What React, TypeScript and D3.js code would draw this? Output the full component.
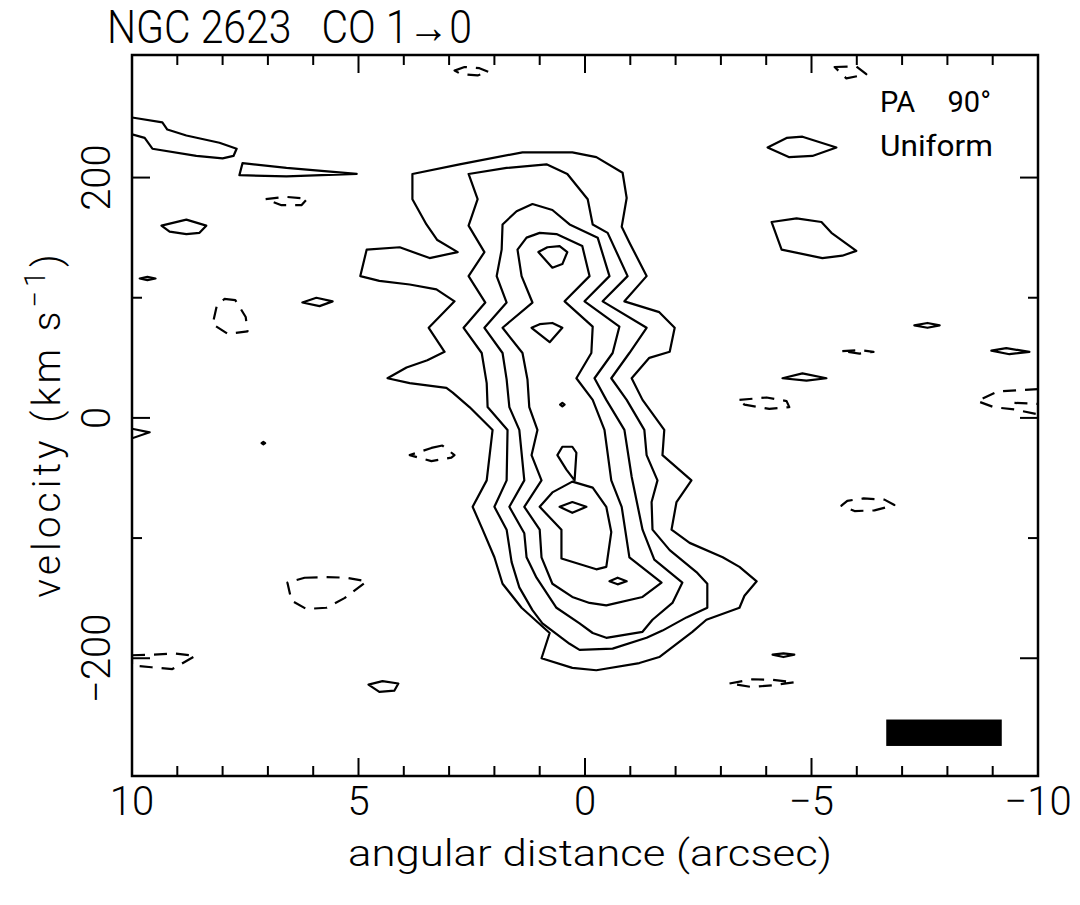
import * as d3 from 'd3';

type Pt = [number, number];

// axis ticks (arcsec, km/s)
const xMajorTicks = [10, 5, 0, -5, -10];
const xTickLabels = ['10', '5', '0', '\u22125', '\u221210'];
const xMinorTicks = [9, 8, 7, 6, 4, 3, 2, 1, -1, -2, -3, -4, -6, -7, -8, -9];
const yMajorTicks = [-200, 0, 200];
const yTickLabels = ['\u2212200', '0', '200'];
const yMinorTicks = [-100, 100];

// main positive contours [offset arcsec, velocity km/s], outermost first
const level1: Pt[] = [
  [3.81, 203], [2.77, 211], [1.38, 221], [0.28, 221], [-0.25, 217], [-0.83, 204], [-0.92, 183],
  [-0.81, 159], [-0.98, 146], [-1.36, 118], [-0.87, 97], [-1.64, 88], [-1.98, 75], [-1.87, 55],
  [-1.42, 50], [-1.03, 33], [-1.27, 15], [-1.75, -10], [-1.71, -31], [-2.35, -52], [-2.02, -70],
  [-1.91, -93], [-2.31, -104], [-3.04, -116], [-3.41, -124], [-3.79, -136], [-3.52, -148],
  [-3.41, -158], [-2.68, -168], [-2.37, -178], [-1.64, -199], [-1.2, -204], [-0.25, -210],
  [0.28, -208], [0.96, -200], [0.78, -179], [1.4, -158], [1.82, -138], [2.0, -116], [2.26, -93],
  [2.48, -74], [2.17, -52], [2.04, -10], [2.55, 9], [2.92, 21], [3.06, 25], [3.87, 29], [4.36, 33],
  [3.94, 42], [3.48, 48], [3.1, 55], [3.45, 75], [2.88, 97], [3.28, 107], [3.87, 111], [4.54, 114],
  [4.96, 118], [4.82, 140], [4.09, 142], [3.43, 133], [2.81, 138], [3.26, 148], [3.5, 161], [3.81, 182],
];
const level2: Pt[] = [
  [2.57, 203], [1.73, 208], [0.85, 211], [0.39, 203], [-0.06, 182], [-0.17, 161], [-0.5, 154],
  [-0.94, 118], [-0.39, 97], [-1.36, 75], [-0.98, 54], [-0.58, 33], [-0.92, 15], [-1.31, -10],
  [-1.36, -31], [-1.6, -52], [-1.47, -70], [-1.49, -93], [-1.87, -110], [-2.48, -129], [-2.7, -138],
  [-2.7, -158], [-2.24, -166], [-1.71, -177], [-1.36, -183], [-0.61, -192], [0.12, -193],
  [0.34, -188], [0.94, -171], [1.16, -160], [1.45, -141], [1.62, -120], [1.73, -93], [2.0, -74],
  [1.73, -52], [1.71, -10], [2.15, 9], [2.17, 29], [2.28, 54], [2.68, 75], [2.2, 96], [2.57, 118],
  [2.22, 138], [2.57, 160], [2.37, 182],
];
const level3: Pt[] = [
  [1.82, 161], [1.51, 172], [1.16, 178], [0.72, 173], [0.34, 161], [-0.28, 150], [-0.54, 118],
  [0.01, 97], [-0.76, 76], [-0.61, 54], [-0.21, 33], [-0.47, 15], [-0.87, -10], [-1.03, -49],
  [-1.27, -93], [-1.53, -118], [-2.15, -137], [-1.93, -154], [-1.49, -168], [-1.27, -178],
  [-0.47, -183], [-0.17, -179], [0.12, -171], [0.63, -158], [1.07, -133], [1.29, -116], [1.34, -96],
  [1.67, -74], [1.34, -52], [1.45, -10], [1.67, 9], [1.73, 32], [1.82, 54], [2.22, 75], [1.73, 96],
  [1.95, 118], [1.84, 140],
];
const level4: Pt[] = [
  [1.49, 140], [1.29, 150], [1.0, 154], [0.63, 153], [0.06, 143], [-0.1, 118], [0.45, 97],
  [-0.17, 76], [-0.14, 54], [0.19, 33], [-0.17, 15], [-0.43, -10], [-0.58, -52], [-0.81, -74],
  [-0.98, -116], [-1.69, -137], [-1.27, -149], [-0.47, -156], [-0.1, -154], [0.28, -149],
  [0.72, -138], [0.96, -116], [1.0, -93], [1.34, -74], [0.96, -52], [1.18, -31], [1.05, -10],
  [1.23, 9], [1.27, 32], [1.38, 54], [1.82, 75], [1.16, 96], [1.4, 118],
];
// inner peaks
const peakTop: Pt[] = [[1.03, 138], [0.83, 142], [0.56, 143], [0.39, 138], [0.5, 128], [0.72, 125]];
const peakMiddle: Pt[] = [[1.18, 75], [1.0, 78], [0.72, 79], [0.5, 75], [0.78, 63]];
const peakDot: Pt[] = [[0.55, 11], [0.5, 12.5], [0.45, 11], [0.5, 9.5]];
const peakDrop: Pt[] = [[0.61, -31], [0.5, -24], [0.28, -24], [0.19, -29], [0.23, -52], [0.41, -43]];
const peakLower: Pt[] = [
  [1.0, -74], [0.72, -62], [0.28, -53], [-0.17, -58], [-0.47, -74], [-0.58, -95], [-0.47, -124],
  [-0.25, -126], [0.52, -117], [0.52, -93],
];
const peakEye: Pt[] = [[0.56, -74], [0.28, -70], [-0.03, -74], [0.28, -79]];
const peakSmall: Pt[] = [[-0.54, -136], [-0.72, -133], [-0.92, -136], [-0.72, -138.5]];

// isolated positive blobs
const blobA: Pt[] = [[7.56, 212], [6.59, 208], [5.04, 203], [6.59, 201], [7.63, 202]];
const blobB: Pt[] = [[9.35, 160], [8.8, 165], [8.36, 160], [8.51, 154], [8.8, 153], [9.17, 155]];
const blobC: Pt[] = [[9.83, 116], [9.66, 117.3], [9.48, 116], [9.66, 114.7]];
const blobD: Pt[] = [[6.24, 96], [5.93, 100], [5.57, 97], [5.86, 93]];
const blobE: Pt[] = [[7.14, -21], [7.1, -20], [7.06, -21], [7.1, -22]];
const blobF: Pt[] = [[4.78, -222], [4.47, -219], [4.12, -221], [4.21, -227], [4.54, -228]];
const blobG: Pt[] = [[-4.03, 225], [-4.45, 233], [-4.8, 234], [-5.55, 225], [-5.02, 218], [-4.51, 217]];
const blobH: Pt[] = [[-4.12, 163], [-4.67, 166], [-5.22, 163], [-5.44, 154], [-5.99, 139], [-5.68, 135], [-5.24, 133], [-4.34, 140]];
const blobI: Pt[] = [[-7.27, 77], [-7.56, 79], [-7.83, 77], [-7.56, 75]];
const blobJ: Pt[] = [[-8.97, 56], [-9.3, 58], [-9.81, 55], [-9.37, 53]];
const blobK: Pt[] = [[-4.36, 33], [-4.8, 37], [-5.33, 33], [-4.89, 31]];
const blobL: Pt[] = [[-4.14, -197], [-4.38, -196], [-4.62, -197], [-4.38, -199]];
// positive contours cut by the left edge
const edgeTop: Pt[] = [
  [10, 250], [9.33, 246], [9.22, 240], [8.8, 235], [8.07, 229], [7.69, 224], [7.76, 218], [8.0, 216],
  [8.58, 218], [9.55, 224], [9.72, 233], [10, 236],
];
const edgeMid: Pt[] = [[10, -9], [9.61, -12], [10, -17]];

// negative contours (dashed)
const negA: Pt[] = [[2.88, 289], [2.66, 292], [2.33, 291], [2.13, 288], [2.37, 285], [2.73, 286]];
const negB: Pt[] = [[7.05, 182], [6.63, 184], [6.13, 182.5], [6.26, 177], [6.7, 177]];
const negC: Pt[] = [[7.96, 99], [7.72, 98], [7.49, 84], [7.45, 72], [7.89, 70], [8.22, 78], [8.13, 93]];
const negD: Pt[] = [[3.39, -25], [3.15, -23], [2.88, -31], [2.95, -33], [3.39, -36], [3.87, -31]];
const negE: Pt[] = [
  [6.19, -133], [5.71, -132.5], [5.26, -133], [4.82, -136], [5.31, -150], [5.71, -158], [6.15, -159],
  [6.48, -152], [6.57, -137],
];
const negF: Pt[] = [[10, -197.5], [9.55, -197], [9.06, -196], [8.6, -198], [9.11, -209], [9.57, -207.5], [10, -206]];
const negG: Pt[] = [[-5.51, 292], [-5.99, 292.5], [-6.21, 286], [-5.77, 282.5]];
const negH: Pt[] = [[-3.41, 15], [-4.01, 17], [-4.45, 14], [-4.51, 9], [-4.07, 7.5], [-3.52, 11]];
const negI: Pt[] = [[-5.68, 55.5], [-6.06, 56.5], [-6.37, 55], [-6.06, 53.5]];
const negJ: Pt[] = [[-5.66, -73], [-5.79, -69], [-6.15, -67], [-6.61, -68], [-6.83, -72.5], [-6.39, -77], [-5.95, -77.5]];
const negK: Pt[] = [[-3.19, -221], [-3.7, -217.5], [-4.14, -218], [-4.62, -220], [-4.14, -222.5], [-3.68, -224]];
const negEdgeA: Pt[] = [[-10, 24], [-9.57, 23], [-9.11, 22], [-8.66, 14], [-9.02, 9], [-9.48, 7], [-10, 3]];
const negEdgeB: Pt[] = [[-9.48, 12.5], [-10, 11.7]];

// beam bar (arcsec, km/s)
const beamX = [-6.65, -9.2];
const beamV = [-251, -273];

const positiveClosed = [level1, level2, level3, level4, peakTop, peakMiddle, peakDot, peakDrop,
  peakLower, peakEye, peakSmall, blobA, blobB, blobC, blobD, blobE, blobF, blobG, blobH, blobI,
  blobJ, blobK, blobL];
const positiveOpen = [edgeTop, edgeMid];
const negativeClosed = [negA, negB, negC, negD, negE, negF, negG, negH, negI, negJ, negK];
const negativeOpen = [negEdgeA, negEdgeB];

const W = 1080;
const H = 905;
const font = "Roboto, 'Liberation Sans', sans-serif";

export default function App() {
  const x = d3.scaleLinear().domain([10, -10]).range([132, 1038]);
  const y = d3.scaleLinear().domain([-298, 302]).range([776, 55]);
  const [x0, x1] = x.range();
  const [yb, yt] = y.range();

  const closed = d3.line<Pt>().x(d => x(d[0])).y(d => y(d[1])).curve(d3.curveLinearClosed);
  const open = d3.line<Pt>().x(d => x(d[0])).y(d => y(d[1]));

  const tickMajor = 18;
  const tickMinor = 10;

  return (
    <div style={{ position: 'absolute', left: 0, top: 0, background: 'white' }}>
      <svg width={W} height={H} style={{ display: 'block' }}>
        <rect width={W} height={H} fill="white" />
        <defs>
          <clipPath id="plot">
            <rect x={x0} y={yt} width={x1 - x0} height={yb - yt} />
          </clipPath>
        </defs>

        <g clipPath="url(#plot)" fill="none" stroke="#000" strokeWidth={2.2} strokeLinejoin="round">
          {positiveClosed.map((c, i) => (
            <path key={'p' + i} d={closed(c) ?? ''} />
          ))}
          {positiveOpen.map((c, i) => (
            <path key={'po' + i} d={open(c) ?? ''} />
          ))}
          {negativeClosed.map((c, i) => (
            <path key={'n' + i} d={closed(c) ?? ''} strokeDasharray="13 9" />
          ))}
          {negativeOpen.map((c, i) => (
            <path key={'no' + i} d={open(c) ?? ''} strokeDasharray="13 9" />
          ))}
        </g>

        <rect
          x={x(beamX[0])}
          y={y(beamV[0])}
          width={x(beamX[1]) - x(beamX[0])}
          height={y(beamV[1]) - y(beamV[0])}
          fill="#000"
        />

        {/* frame */}
        <rect x={x0} y={yt} width={x1 - x0} height={yb - yt} fill="none" stroke="#000" strokeWidth={2.5} />

        {/* ticks */}
        <g stroke="#000" strokeWidth={2}>
          {xMajorTicks.concat(xMinorTicks).map((t, i) => {
            const len = xMajorTicks.includes(t) ? tickMajor : tickMinor;
            return (
              <g key={'xt' + i}>
                <line x1={x(t)} x2={x(t)} y1={yb} y2={yb - len} />
                <line x1={x(t)} x2={x(t)} y1={yt} y2={yt + len} />
              </g>
            );
          })}
          {yMajorTicks.concat(yMinorTicks).map((t, i) => {
            const len = yMajorTicks.includes(t) ? tickMajor : tickMinor;
            return (
              <g key={'yt' + i}>
                <line x1={x0} x2={x0 + len} y1={y(t)} y2={y(t)} />
                <line x1={x1} x2={x1 - len} y1={y(t)} y2={y(t)} />
              </g>
            );
          })}
        </g>

        {/* tick labels */}
        <g fontFamily={font} fontWeight={300} fontSize={40} fill="#000">
          {xMajorTicks.map((t, i) => (
            <text key={'xl' + i} x={x(t)} y={815} textAnchor="middle">
              {xTickLabels[i]}
            </text>
          ))}
          {yMajorTicks.map((t, i) => (
            <text
              key={'yl' + i}
              transform={`translate(110,${y(t)}) rotate(-90)`}
              textAnchor="middle"
            >
              {yTickLabels[i]}
            </text>
          ))}
        </g>

        {/* titles */}
        <text
          x={107}
          y={43}
          fontFamily={font}
          fontWeight={300}
          fontSize={46}
          textLength={365}
          lengthAdjust="spacingAndGlyphs"
          style={{ whiteSpace: 'pre' }}
        >
          {'NGC 2623   CO 1\u21920'}
        </text>
        <text
          x={590}
          y={866}
          textAnchor="middle"
          fontFamily={font}
          fontWeight={300}
          fontSize={37}
          textLength={484}
          lengthAdjust="spacingAndGlyphs"
        >
          angular distance (arcsec)
        </text>
        <text
          transform="translate(60,424) rotate(-90)"
          textAnchor="middle"
          fontFamily={font}
          fontWeight={300}
          fontSize={39}
          letterSpacing={4}
        >
          velocity (km s
          <tspan dy={-15} fontSize={29}>{'\u22121'}</tspan>
          <tspan dy={15}>)</tspan>
        </text>

        <g fontFamily={font} fontSize={29} fill="#000">
          <text x={880} y={112}>PA</text>
          <text x={991} y={112} textAnchor="end">{'90\u00b0'}</text>
          <text x={880} y={156} textLength={113} lengthAdjust="spacingAndGlyphs">Uniform</text>
        </g>
      </svg>
    </div>
  );
}
